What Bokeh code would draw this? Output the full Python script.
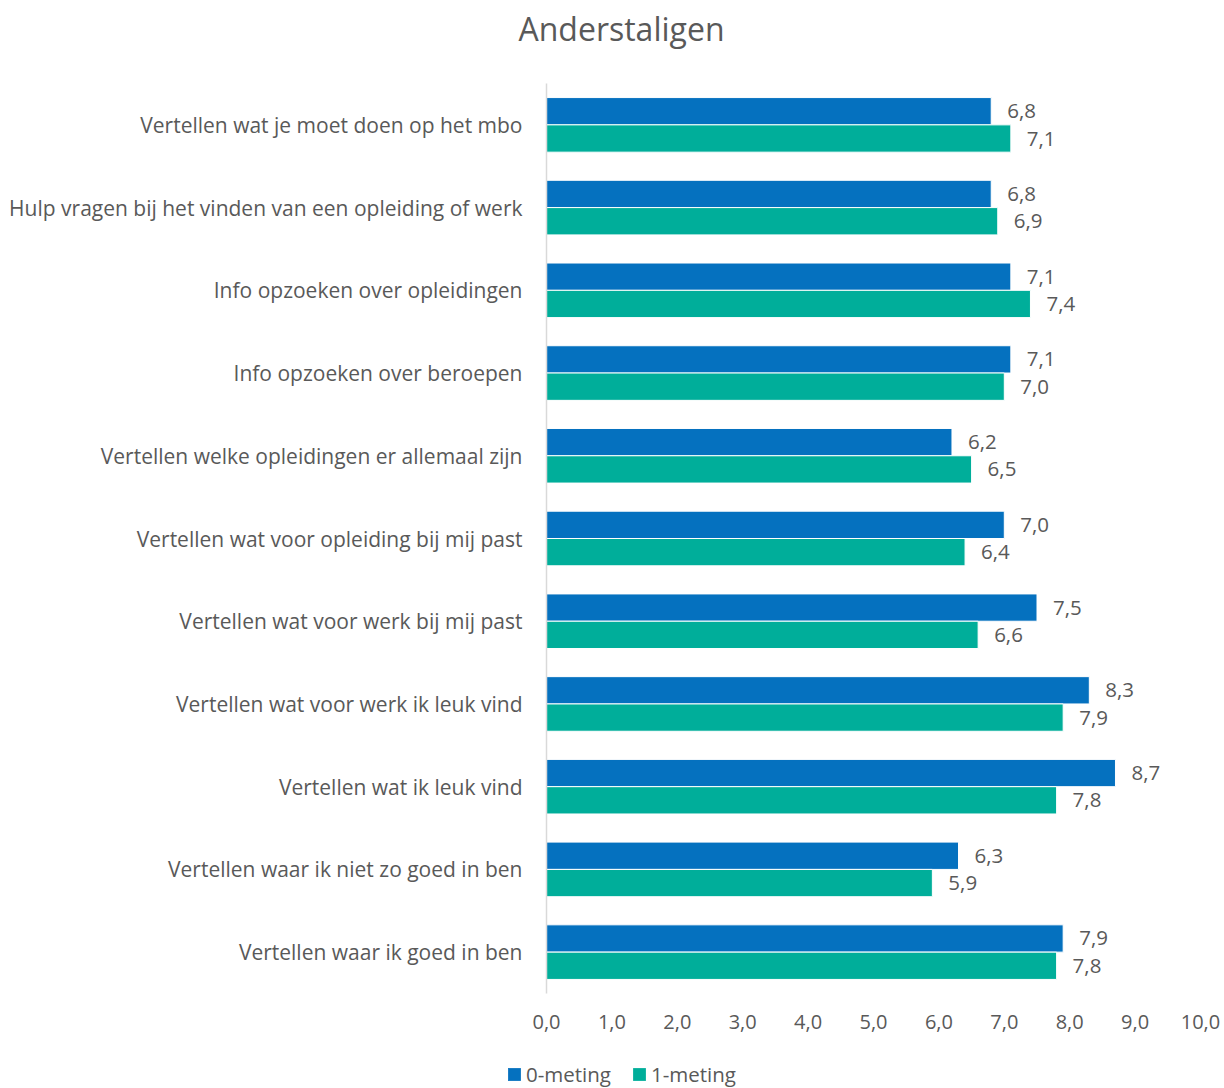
from bokeh.plotting import figure
from bokeh.layouts import column, row
from bokeh.models import ColumnDataSource, Legend, LegendItem, FixedTicker, Range1d
from bokeh.core.properties import value
from bokeh.embed import file_html
from bokeh.resources import INLINE

title_text = "Anderstaligen"
categories = [
    "Vertellen wat je moet doen op het mbo",
    "Hulp vragen bij het vinden van een opleiding of werk",
    "Info opzoeken over opleidingen",
    "Info opzoeken over beroepen",
    "Vertellen welke opleidingen er allemaal zijn",
    "Vertellen wat voor opleiding bij mij past",
    "Vertellen wat voor werk bij mij past",
    "Vertellen wat voor werk ik leuk vind",
    "Vertellen wat ik leuk vind",
    "Vertellen waar ik niet zo goed in ben",
    "Vertellen waar ik goed in ben",
]
meting0 = [6.8, 6.8, 7.1, 7.1, 6.2, 7.0, 7.5, 8.3, 8.7, 6.3, 7.9]
meting1 = [7.1, 6.9, 7.4, 7.0, 6.5, 6.4, 6.6, 7.9, 7.8, 5.9, 7.8]
x_ticks = [0, 1, 2, 3, 4, 5, 6, 7, 8, 9, 10]
series_names = ["0-meting", "1-meting"]

BLUE = "#0571BF"
GREEN = "#00AE9A"
GRAY = "#595959"
FONT = "Open Sans"
W = 1224


def bare(height):
    f = figure(width=W, height=height, output_backend="svg", toolbar_location=None,
               x_range=Range1d(0, W), y_range=Range1d(0, height),
               min_border=0, min_border_left=0, min_border_right=0, min_border_top=0, min_border_bottom=0)
    f.axis.visible = False
    f.grid.visible = False
    f.outline_line_color = None
    return f


# --- title strip ---
tfig = bare(60)
tfig.text(x=[621], y=[32], text=[title_text], text_align="center", text_baseline="middle",
          text_font=value(FONT), text_font_size="32px", text_color=GRAY)

# --- main chart ---
n = len(categories)
ypos = [n - 1 - i for i in range(n)]
fmt = lambda v: f"{v:.1f}".replace(".", ",")

src0 = ColumnDataSource(dict(y=[y + 0.165 for y in ypos], v=meting0, lbl=[fmt(v) for v in meting0]))
src1 = ColumnDataSource(dict(y=[y - 0.165 for y in ypos], v=meting1, lbl=[fmt(v) for v in meting1]))

p = figure(width=W, height=997, output_backend="svg", toolbar_location=None,
           x_range=Range1d(0, 10), y_range=Range1d(-0.5, n - 0.5),
           min_border_left=546, min_border_right=24, min_border_top=23, min_border_bottom=64)
p.outline_line_color = None
p.xgrid.grid_line_color = None
p.ygrid.grid_line_color = None

p.hbar(y="y", left=0, right="v", height=0.33, source=src0, fill_color=BLUE, line_color="white", line_width=1)
p.hbar(y="y", left=0, right="v", height=0.33, source=src1, fill_color=GREEN, line_color="white", line_width=1)

for s in (src0, src1):
    p.text(x="v", y="y", text="lbl", source=s, x_offset=16, text_baseline="middle", text_align="left",
           text_font=value(FONT), text_font_size="20.5px", text_color=GRAY)

p.yaxis.ticker = FixedTicker(ticks=ypos)
p.yaxis.major_label_overrides = {y: c for y, c in zip(ypos, categories)}
p.yaxis.major_tick_line_color = None
p.yaxis.minor_tick_line_color = None
p.yaxis.axis_line_color = "#D9D9D9"
p.yaxis.axis_line_width = 1.5
p.yaxis.major_label_standoff = 18
p.yaxis.major_label_text_font = FONT
p.yaxis.major_label_text_font_size = "21px"
p.yaxis.major_label_text_color = GRAY

p.xaxis.ticker = FixedTicker(ticks=x_ticks)
p.xaxis.major_label_overrides = {t: fmt(t) for t in x_ticks}
p.xaxis.axis_line_color = None
p.xaxis.major_tick_line_color = None
p.xaxis.minor_tick_line_color = None
p.xaxis.major_label_standoff = 15
p.xaxis.major_label_text_font = FONT
p.xaxis.major_label_text_font_size = "20px"
p.xaxis.major_label_text_color = GRAY

# --- legend strip (swatch renderers sit outside the visible range) ---
lfig = bare(31)
off = ColumnDataSource(dict(y=[-1000], v=[1]))
l0 = lfig.hbar(y="y", left=0, right="v", height=1, source=off, fill_color=BLUE, line_color=None)
l1 = lfig.hbar(y="y", left=0, right="v", height=1, source=off, fill_color=GREEN, line_color=None)
legend = Legend(items=[LegendItem(label=series_names[0], renderers=[l0], index=0),
                       LegendItem(label=series_names[1], renderers=[l1], index=0)],
                orientation="horizontal", location=(506, 0),
                label_text_font=FONT, label_text_font_size="20.5px", label_text_color=GRAY,
                glyph_width=16, glyph_height=16, spacing=20, label_standoff=4,
                border_line_color=None, background_fill_alpha=0, padding=0, margin=0)
lfig.add_layout(legend, "center")

layout = column(row(tfig), row(p), row(lfig), spacing=0)
open("out.html", "w").write(file_html(layout, INLINE))
